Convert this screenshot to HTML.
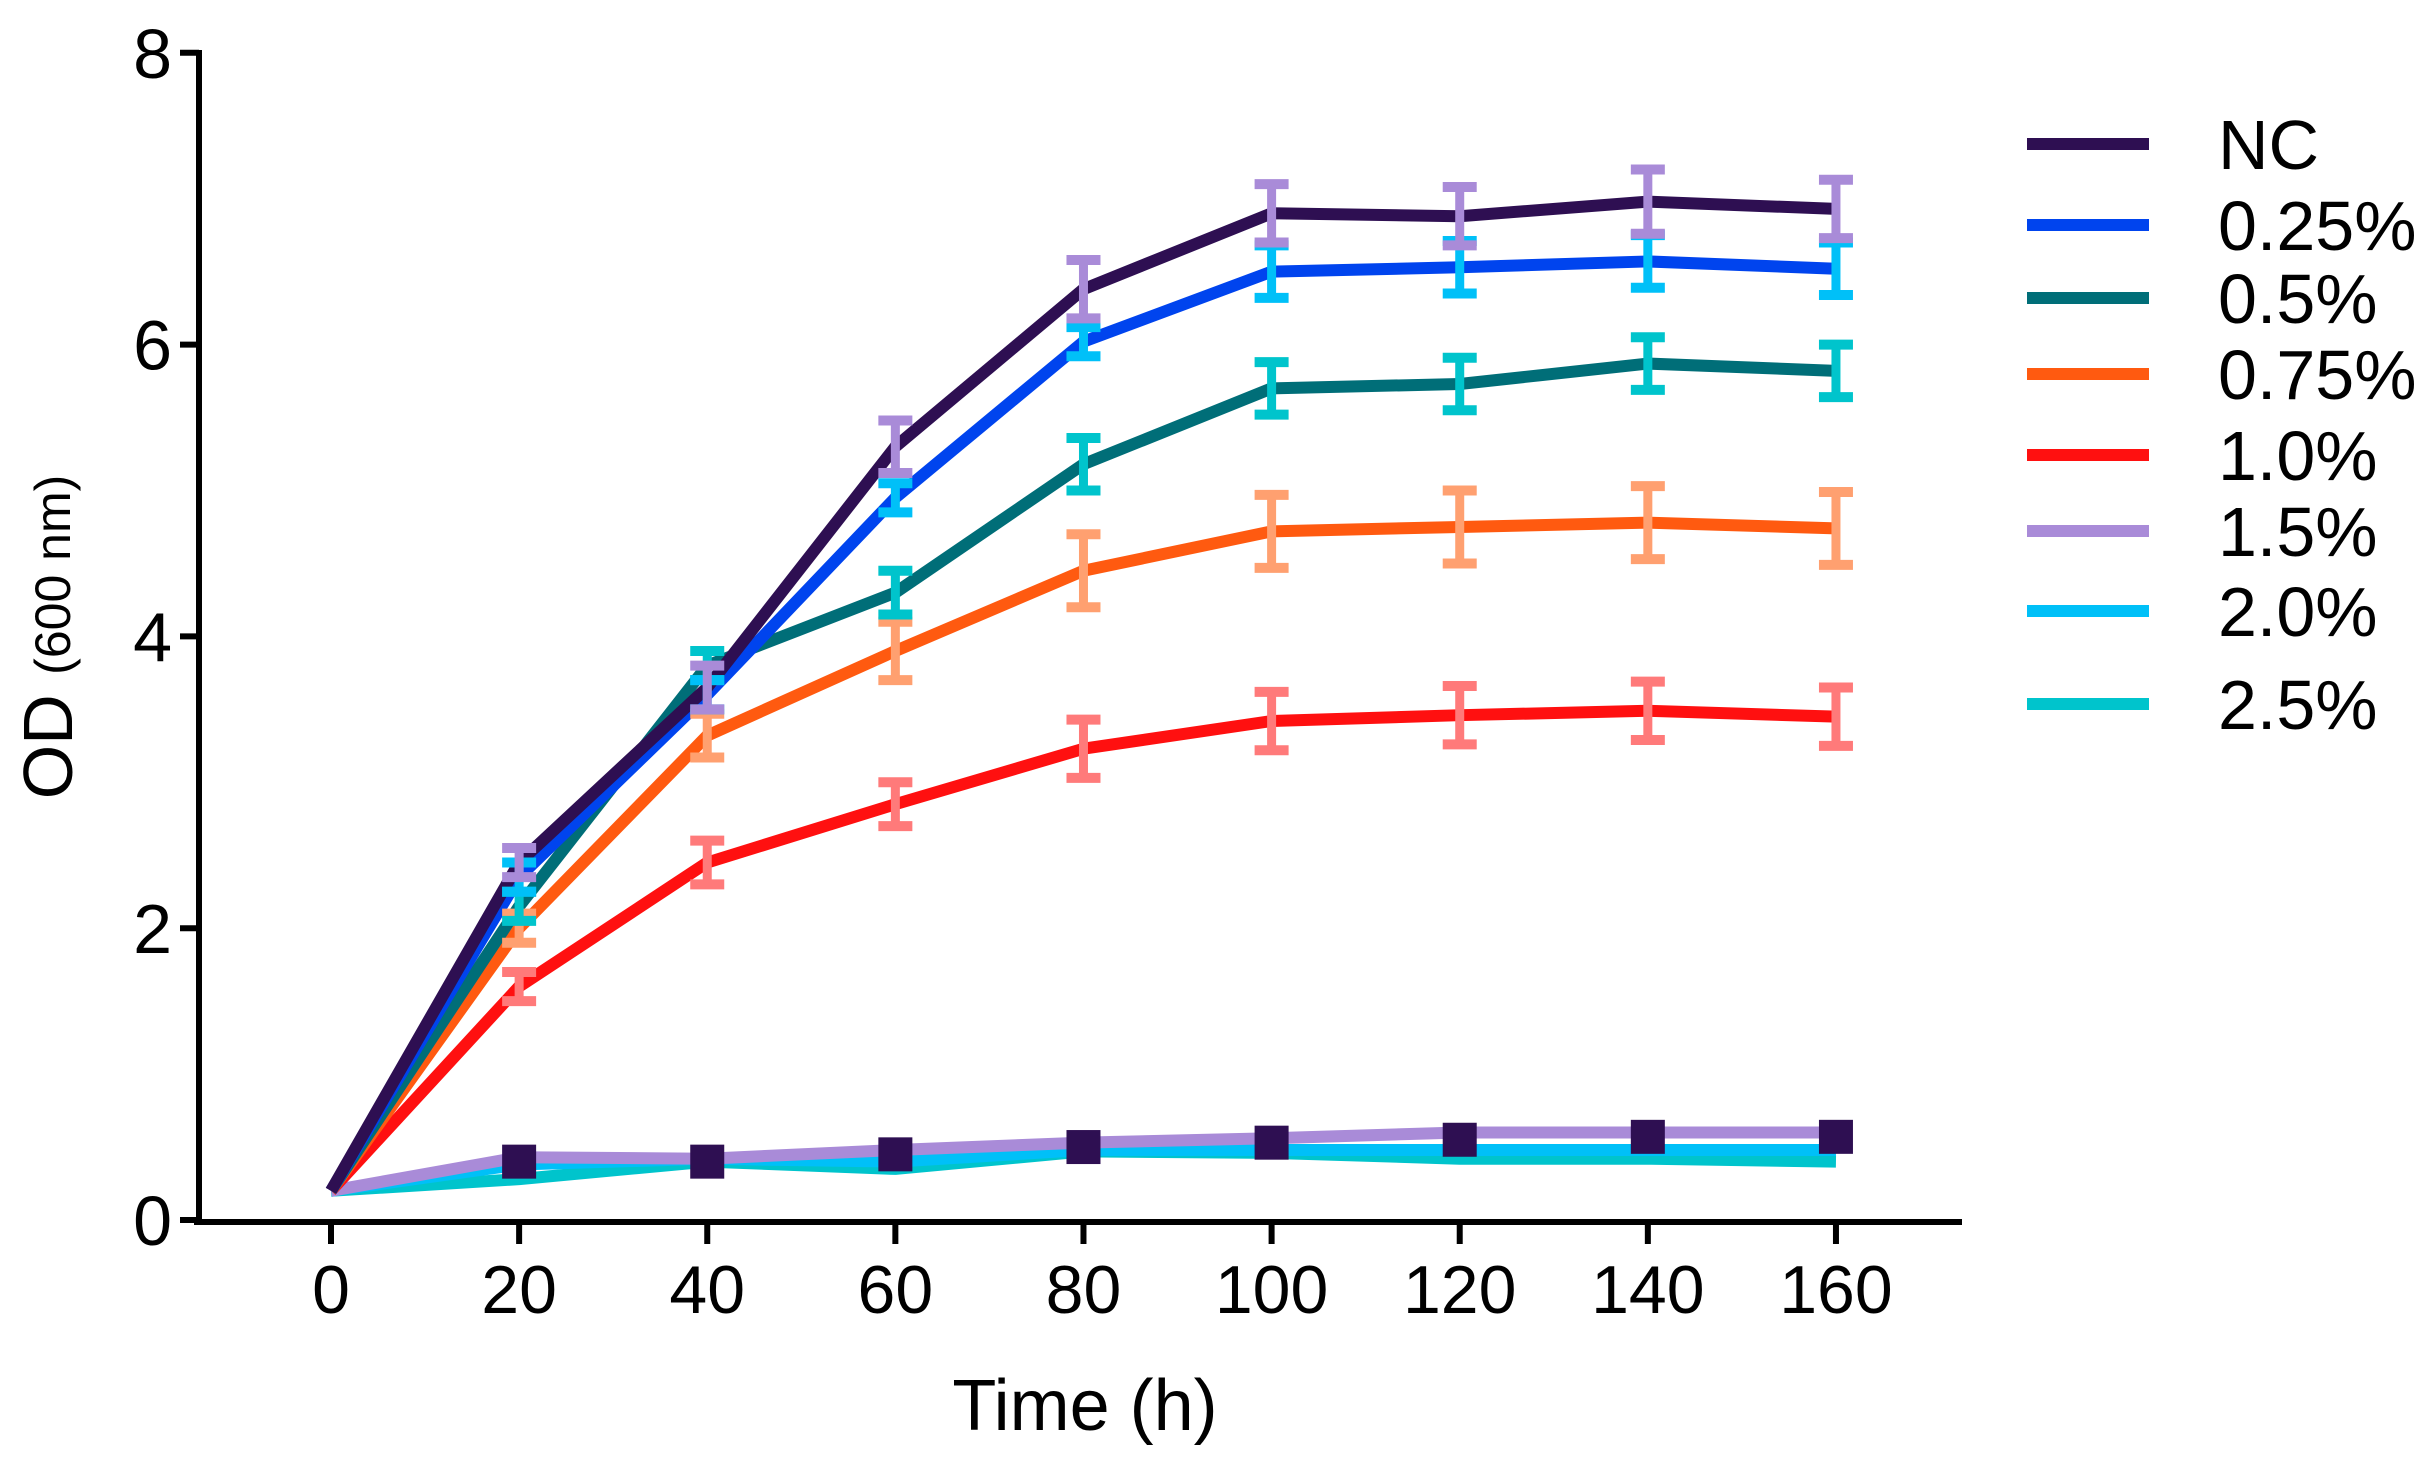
<!DOCTYPE html>
<html><head><meta charset="utf-8"><style>html,body{margin:0;padding:0;background:#fff}svg{display:block}</style></head>
<body>
<svg id="s" xmlns="http://www.w3.org/2000/svg" width="2436" height="1470" viewBox="0 0 2436 1470" font-family="Liberation Sans, Arial, sans-serif">
<rect width="2436" height="1470" fill="#fff"/>
</svg>
<script>
const s=document.getElementById('s');
const X=h=>331+h*9.406, Y=v=>1220-v*145.9;
let o='';
const xs=[0,20,40,60,80,100,120,140,160];
const ser=[
 {c:'#00c4cc',d:[0.2,0.28,0.4,0.35,0.47,0.46,0.42,0.42,0.4]},
 {c:'#00c0f8',d:[0.2,0.38,0.42,0.4,0.48,0.48,0.48,0.48,0.48]},
 {c:'#a98bd8',d:[0.2,0.43,0.42,0.48,0.53,0.56,0.6,0.6,0.6]},
 {c:'#ff1010',d:[0.2,1.6,2.45,2.85,3.23,3.42,3.46,3.49,3.45],e:'#ff7a7a',er:[0.08,0.1,0.15,0.15,0.2,0.2,0.2,0.2,0.2]},
 {c:'#ff5a10',d:[0.2,2.0,3.32,3.9,4.45,4.72,4.75,4.78,4.74],e:'#ffa070',er:[0.05,0.1,0.15,0.2,0.25,0.25,0.25,0.25,0.25]},
 {c:'#006e78',d:[0.2,2.15,3.8,4.3,5.18,5.7,5.73,5.87,5.82],e:'#00c4cc',er:[0.05,0.1,0.1,0.15,0.18,0.18,0.18,0.18,0.18]},
 {c:'#0044ee',d:[0.2,2.35,3.6,4.95,6.02,6.5,6.53,6.57,6.52],e:'#00c0f8',er:[0.05,0.1,0.1,0.1,0.1,0.18,0.18,0.18,0.18]},
 {c:'#2e0f52',d:[0.2,2.45,3.65,5.3,6.38,6.9,6.88,6.98,6.93],e:'#a98bd8',er:[0.05,0.1,0.15,0.18,0.2,0.2,0.2,0.22,0.2]}
];
for(const sr of ser){
 o+=`<polyline fill="none" stroke="${sr.c}" stroke-width="12" stroke-linejoin="round" points="${sr.d.map((v,i)=>X(xs[i])+','+Y(v)).join(' ')}"/>`;
}
const sq=[0.4,0.4,0.45,0.5,0.53,0.55,0.57,0.57];
sq.forEach((v,i)=>{o+=`<rect x="${X(xs[i+1])-17}" y="${Y(v)-17}" width="34" height="34" fill="#2e0f52"/>`;});
for(const sr of ser){ if(!sr.e) continue;
 sr.d.forEach((v,i)=>{ if(i==0) return; const x=X(xs[i]),a=Y(v+sr.er[i]),b=Y(v-sr.er[i]);
  o+=`<line x1="${x}" x2="${x}" y1="${a}" y2="${b}" stroke="${sr.e}" stroke-width="9"/>`;
  o+=`<line x1="${x-17}" x2="${x+17}" y1="${a}" y2="${a}" stroke="${sr.e}" stroke-width="10"/>`;
  o+=`<line x1="${x-17}" x2="${x+17}" y1="${b}" y2="${b}" stroke="${sr.e}" stroke-width="10"/>`;
 });
}
o+=`<line x1="199" y1="50" x2="199" y2="1224" stroke="#000" stroke-width="6"/>`;
o+=`<line x1="194" y1="1222" x2="1962" y2="1222" stroke="#000" stroke-width="6"/>`;
for(let v=0;v<=8;v+=2){const y=Y(v);o+=`<line x1="180" x2="199" y1="${y}" y2="${y}" stroke="#000" stroke-width="6"/>`;
 o+=`<text x="172" y="${y+25}" font-size="70" text-anchor="end">${v}</text>`;}
xs.forEach(h=>{const x=X(h);o+=`<line x1="${x}" x2="${x}" y1="1222" y2="1244" stroke="#000" stroke-width="6"/>`;
 o+=`<text x="${x}" y="1313" font-size="68" text-anchor="middle">${h}</text>`;});
o+=`<text x="1085" y="1430" font-size="72" text-anchor="middle">Time (h)</text>`;
o+=`<text transform="translate(72,637) rotate(-90)" text-anchor="middle" font-size="70">OD <tspan font-size="50" dy="-2">(600 nm)</tspan></text>`;
const lg=[['NC','#2e0f52',144],['0.25%','#0044ee',225],['0.5%','#006e78',298],['0.75%','#ff5a10',374],['1.0%','#ff1010',455],['1.5%','#a98bd8',531],['2.0%','#00c0f8',611],['2.5%','#00c4cc',704]];
lg.forEach(([t,c,y])=>{o+=`<line x1="2027" x2="2149" y1="${y}" y2="${y}" stroke="${c}" stroke-width="12"/>`;
 o+=`<text x="2218" y="${y+25}" font-size="70">${t}</text>`;});
s.insertAdjacentHTML('beforeend',o);
</script>
</body></html>
